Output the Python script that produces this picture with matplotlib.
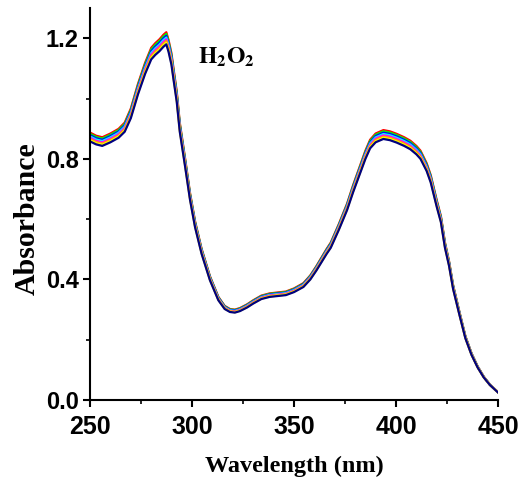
import numpy as np
import matplotlib.pyplot as plt

# wavelength (nm) and absorbance of the lowest (navy) trace
wavelength = [250, 253, 256, 260, 264, 267, 270, 273.5, 277, 280, 282, 284, 286, 287.4,
              288.5, 289.9, 291, 292.5, 294, 296.6, 299, 301.5, 304.7, 308.8, 312.9, 316,
              318.6, 321, 323.5, 327, 330, 334, 338, 342, 346, 350, 354.6, 358, 361, 366,
              368, 372, 376, 379, 382, 385, 387.3, 390, 393.8, 397, 400.3, 404, 407, 410,
              412, 415, 417, 420, 422, 424, 426, 428, 431, 434, 437, 440, 443, 446, 450]
absorb_base = [0.858, 0.848, 0.843, 0.855, 0.870, 0.890, 0.935, 1.014, 1.082, 1.130, 1.145,
               1.157, 1.172, 1.180, 1.155, 1.113, 1.060, 0.990, 0.890, 0.775, 0.665, 0.573,
               0.485, 0.397, 0.331, 0.302, 0.292, 0.290, 0.295, 0.307, 0.320, 0.335, 0.342,
               0.345, 0.348, 0.358, 0.375, 0.400, 0.430, 0.485, 0.505, 0.565, 0.630, 0.690,
               0.745, 0.800, 0.835, 0.855, 0.866, 0.862, 0.854, 0.843, 0.832, 0.815, 0.800,
               0.760, 0.722, 0.640, 0.590, 0.505, 0.445, 0.368, 0.285, 0.205, 0.150, 0.108,
               0.075, 0.050, 0.025]

# peak ratio of each trace relative to the lowest one (top to bottom)
trace_colors = ['red', 'lime', 'blue', 'cyan', 'magenta', 'orange', 'yellow', 'navy']
trace_scale = [1.034, 1.029, 1.024, 1.019, 1.014, 1.009, 1.004, 1.0]

plt.rcParams['mathtext.fontset'] = 'stix'

fig = plt.figure(figsize=(5.24, 4.79), dpi=100)
ax = fig.add_axes([0.1718, 0.1649, 0.7786, 0.8181])

wl = np.array(wavelength)
base = np.array(absorb_base)
for c, s in zip(trace_colors, trace_scale):
    ax.plot(wl, base * s, color=c, lw=1.6, solid_joinstyle='round')

ax.set_xlim(250, 450)
ax.set_ylim(0, 1.3)
ax.set_xticks([250, 300, 350, 400, 450])
ax.set_xticks([275, 325, 375, 425], minor=True)
ax.set_yticks([0.0, 0.4, 0.8, 1.2])
ax.set_yticks([0.2, 0.6, 1.0], minor=True)
ax.yaxis.set_major_formatter(plt.FormatStrFormatter('%.1f'))

for sp in ['top', 'right']:
    ax.spines[sp].set_visible(False)
for sp in ['left', 'bottom']:
    ax.spines[sp].set_linewidth(1.5)

ax.tick_params(which='major', length=5, width=1.5, direction='out')
ax.tick_params(which='minor', length=3, width=1.2, direction='out')
ax.tick_params(axis='x', which='major', pad=6)
ax.tick_params(axis='y', which='major', pad=3)
for lab in ax.get_xticklabels():
    lab.set_fontfamily('Liberation Sans')
    lab.set_fontweight('bold')
    lab.set_fontsize(18)
for lab in ax.get_yticklabels():
    lab.set_fontfamily('Liberation Sans')
    lab.set_fontweight('bold')
    lab.set_fontsize(17)

ax.set_xlabel('Wavelength (nm)', fontfamily='Liberation Serif', fontweight='bold',
              fontsize=17.5, labelpad=12)
ax.set_ylabel('Absorbance', fontfamily='Liberation Serif', fontweight='bold',
              fontsize=21.5)
ax.yaxis.set_label_coords(-0.12, 0.463)

ax.text(302.9, 1.117, r'$\mathbf{H_2O_2}$', fontsize=17, va='baseline')

fig.savefig('out.png', dpi=100)
